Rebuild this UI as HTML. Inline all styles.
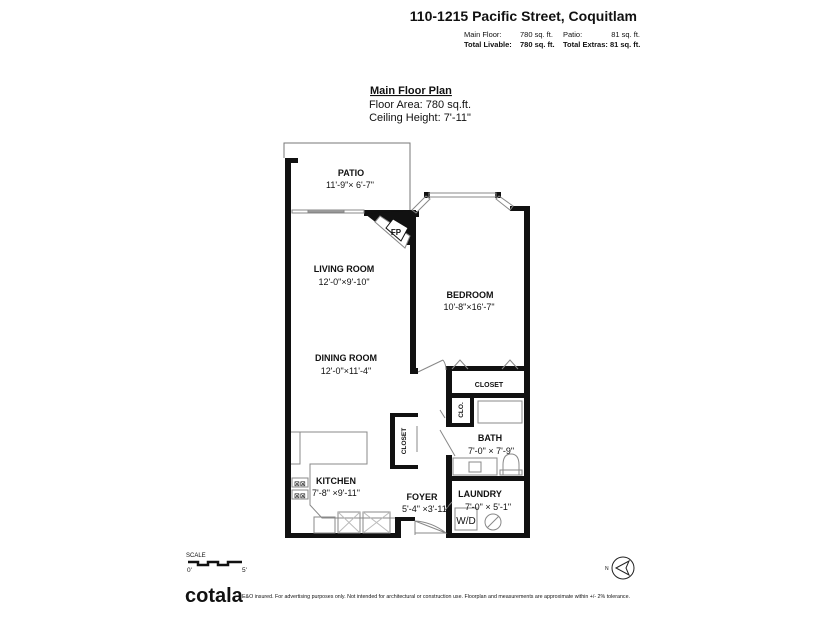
<!DOCTYPE html>
<html><head><meta charset="utf-8"><style>
html,body{margin:0;padding:0;background:#fff;width:825px;height:619px;overflow:hidden}
svg{display:block}
text{font-family:"Liberation Sans",sans-serif;fill:#111}
</style></head><body>
<svg width="825" height="619" viewBox="0 0 825 619" xmlns="http://www.w3.org/2000/svg">
<text x="637" y="21" font-size="14" font-weight="bold" text-anchor="end">110-1215 Pacific Street, Coquitlam</text>
<g font-size="7.5" fill="#333">
<text x="464" y="37">Main Floor:</text><text x="520" y="37">780 sq. ft.</text><text x="563" y="37">Patio:</text><text x="640" y="37" text-anchor="end">81 sq. ft.</text>
<text x="464" y="47" font-weight="bold">Total Livable:</text><text x="520" y="47" font-weight="bold">780 sq. ft.</text><text x="563" y="47" font-weight="bold">Total Extras: 81 sq. ft.</text>
</g>
<text x="370" y="94" font-size="11" font-weight="bold" text-decoration="underline">Main Floor Plan</text>
<text x="420" y="108" font-size="11" text-anchor="middle">Floor Area: 780 sq.ft.</text>
<text x="420" y="121" font-size="11" text-anchor="middle">Ceiling Height: 7'-11"</text>

<path d="M284 158 V143 H410 V212" fill="none" stroke="#777" stroke-width="1"/>
<g fill="#111">
<rect x="285" y="158" width="6" height="380"/>
<rect x="285" y="158" width="13" height="5"/>
<rect x="285" y="210" width="6" height="5"/>
<rect x="364" y="210" width="52" height="6"/>
<polygon points="365,214 416,210 416,245 405,245"/>
<rect x="410" y="210" width="6" height="163"/>
<rect x="410" y="368" width="8" height="6"/>
<rect x="446" y="366" width="84" height="5"/>
<rect x="446" y="366" width="6" height="31"/>
<rect x="524" y="206" width="6" height="332"/>
<rect x="510" y="206" width="20" height="5"/>
<rect x="446" y="393" width="84" height="5"/>
<rect x="446" y="393" width="6" height="34"/>
<rect x="446" y="423" width="28" height="4"/>
<rect x="470" y="393" width="4" height="34"/>
<rect x="446" y="455" width="6" height="83"/>
<rect x="446" y="476" width="84" height="5"/>
<rect x="446" y="533" width="84" height="5"/>
<rect x="285" y="533" width="112" height="5"/>
<rect x="395" y="517" width="6" height="21"/>
<rect x="395" y="517" width="20" height="4"/>
<rect x="390" y="413" width="28" height="4"/>
<rect x="390" y="413" width="5" height="56"/>
<rect x="390" y="465" width="28" height="4"/>
<rect x="411" y="211" width="8" height="6"/>
<rect x="424" y="192" width="6" height="6"/>
<rect x="495" y="192" width="6" height="6"/>
</g>
<g stroke="#888" fill="none" stroke-width="1">
<rect x="292" y="210" width="72" height="3"/>
<rect x="308" y="210" width="36" height="2" fill="#aaa"/>
<polygon points="412,210 426,196 430,199 416,213"/>
<rect x="429" y="193" width="67" height="4"/>
<polygon points="499,196 513,206 510,210 496,199"/>
<polygon points="375,222 380,216 410,236 405,248" fill="#fff"/>
<polygon points="386,228 393,219 408,228 401,241" fill="#fff" stroke="#111"/>
<path d="M418 372 L443 360"/>
<path d="M443 360 Q446 364 446 370"/>
<path d="M452 369 L460 360 L468 369 M502 369 L510 360 L518 369"/>
<path d="M445 418 L440 410 M455 456 L440 430"/>
<rect x="478" y="401" width="44" height="22"/>
<rect x="453" y="458" width="44" height="17"/>
<rect x="469" y="462" width="12" height="10"/>
<path d="M503 475 V465 Q503 454 511 454 Q519 454 519 465 V475"/>
<rect x="500" y="470" width="22" height="5"/>
<path d="M291 432 H367 V464 H310 V505 L322 518 H395"/>
<path d="M300 432 V464 H291"/>
<rect x="314" y="517" width="21" height="16"/>
<rect x="338" y="512" width="22" height="21"/>
<rect x="363" y="512" width="27" height="21"/>
<path d="M338 512 L360 533 M360 512 L338 533 M363 512 L390 533 M390 512 L363 533" stroke="#bbb"/>
<path d="M415 521 L446 533 M415 535 L415 521 Q432 522 446 533 H415"/>
<path d="M445 510 L452 502"/>
<rect x="455" y="508" width="22" height="22"/>
<circle cx="493" cy="522" r="8"/>
<path d="M487 528 L499 516"/>
<path d="M417 426 V452"/>
<rect x="292" y="478" width="16" height="9"/><rect x="292" y="490" width="16" height="9"/>
</g>
<g font-size="7" fill="#444"><text x="294" y="486">⊠⊠</text><text x="294" y="498">⊠⊠</text></g>
<g font-size="9" font-weight="bold" text-anchor="middle">
<text x="351" y="176">PATIO</text>
<text x="396" y="235" font-size="8">FP</text>
<text x="344" y="272">LIVING ROOM</text>
<text x="470" y="298">BEDROOM</text>
<text x="346" y="361">DINING ROOM</text>
<text x="489" y="387" font-size="7">CLOSET</text>
<text x="490" y="441">BATH</text>
<text x="480" y="497">LAUNDRY</text>
<text x="336" y="484">KITCHEN</text>
<text x="422" y="500">FOYER</text>
</g>
<g font-size="9" text-anchor="middle" fill="#333">
<text x="350" y="188">11'-9"× 6'-7"</text>
<text x="344" y="285">12'-0"×9'-10"</text>
<text x="469" y="300"></text>
<text x="469" y="300" dy="0" font-size="0"></text>
<text x="469" y="300" font-size="0"></text>
<text x="469" y="300"></text>
<text x="469" y="300"></text>
<text x="469" y="300"></text>
<text x="469" y="300"></text>
<text x="469" y="300"></text>
<text x="469" y="300"></text>
<text x="469" y="300"></text>
<text x="469" y="300"></text>
<text x="469" y="300"></text>
<text x="469" y="310">10'-8"×16'-7"</text>
<text x="346" y="374">12'-0"×11'-4"</text>
<text x="491" y="454">7'-0" × 7'-9"</text>
<text x="336" y="496">7'-8" ×9'-11"</text>
<text x="426" y="512">5'-4" ×3'-11"</text>
<text x="488" y="510">7'-0" × 5'-1"</text>
<text x="466" y="524" font-size="10">W/D</text>
</g>
<text transform="translate(406,441) rotate(-90)" font-size="6.5" font-weight="bold" text-anchor="middle">CLOSET</text>
<text transform="translate(463,410) rotate(-90)" font-size="6.5" font-weight="bold" text-anchor="middle">CLO.</text>

<text x="186" y="557" font-size="6" fill="#333">SCALE</text>
<path d="M188 562 H198 V565 H208 V562 H218 V565 H228 V562 H242" stroke="#111" stroke-width="2.5" fill="none"/>
<text x="187" y="572" font-size="6.5" fill="#333">0'</text>
<text x="242" y="572" font-size="6.5" fill="#333">5'</text>
<circle cx="623" cy="568" r="11" fill="none" stroke="#222"/>
<path d="M616 568 L629 561 L626 568 L629 575 Z" fill="none" stroke="#222"/>
<text x="605" y="570" font-size="5">N</text>
<text x="185" y="602" font-size="20" font-weight="bold" fill="#111">cotala</text>
<text x="242" y="598" font-size="5" fill="#555" textLength="388" lengthAdjust="spacingAndGlyphs">E&amp;O insured. For advertising purposes only. Not intended for architectural or construction use. Floorplan and measurements are approximate within +/- 2% tolerance.</text>
</svg>
</body></html>
